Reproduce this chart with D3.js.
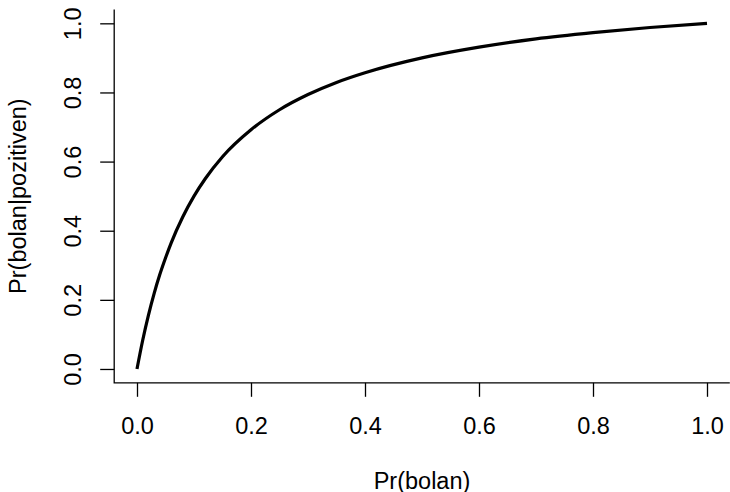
<!DOCTYPE html>
<html>
<head>
<meta charset="utf-8">
<script src="https://cdn.jsdelivr.net/npm/d3@7"></script>
<style>
  body { margin: 0; background: #fff; }
  svg { display: block; font-family: "Liberation Sans", Arial, sans-serif; }
</style>
</head>
<body>
<script>
// Prior probability (x) and posterior probability (y)
const prior = [0, 0.01, 0.02, 0.03, 0.04, 0.05, 0.06, 0.08, 0.10, 0.12, 0.15,
               0.20, 0.25, 0.30, 0.35, 0.40, 0.50, 0.60, 0.70, 0.80, 0.90, 1.0];
const posterior = [0, 0.083, 0.155, 0.218, 0.273, 0.321, 0.365, 0.439, 0.500, 0.551, 0.614,
                   0.692, 0.750, 0.794, 0.829, 0.857, 0.900, 0.931, 0.955, 0.973, 0.988, 1.0];
const xTicks = [0, 0.2, 0.4, 0.6, 0.8, 1.0];
const yTicks = [0, 0.2, 0.4, 0.6, 0.8, 1.0];

const width = 730, height = 492;
const fontSize = 23.5;
// R plot region: data range plus 4% padding on each side
const plotLeft = 114.2, plotRight = 729.8, plotTop = 9.5, plotBottom = 382.8;

const x = d3.scaleLinear().domain([-0.04, 1.04]).range([plotLeft, plotRight]);
const y = d3.scaleLinear().domain([-0.04, 1.04]).range([plotBottom, plotTop]);

const svg = d3.select("body").append("svg")
    .attr("width", width)
    .attr("height", height);

// L-shaped frame
svg.append("path")
    .attr("d", `M${plotLeft},${plotTop}V${plotBottom}H${plotRight}`)
    .attr("fill", "none")
    .attr("stroke", "#000")
    .attr("stroke-width", 1.3);

// x axis ticks + labels
const xAxis = svg.append("g")
    .attr("transform", `translate(0,${plotBottom})`)
    .call(d3.axisBottom(x).tickValues(xTicks).tickFormat(d3.format(".1f")).tickSize(14));
xAxis.select(".domain").remove();
xAxis.selectAll("line").attr("stroke", "#000").attr("stroke-width", 1.3);
xAxis.selectAll("text")
    .attr("font-size", fontSize).attr("font-family", null).attr("fill", "#000")
    .attr("y", 43).attr("dy", null)
    .attr("dominant-baseline", "central");

// y axis ticks + labels (rotated, like R's default las=0)
const yAxis = svg.append("g")
    .attr("transform", `translate(${plotLeft},0)`)
    .call(d3.axisLeft(y).tickValues(yTicks).tickFormat(d3.format(".1f")).tickSize(14));
yAxis.select(".domain").remove();
yAxis.selectAll("line").attr("stroke", "#000").attr("stroke-width", 1.3);
yAxis.selectAll("text")
    .attr("font-size", fontSize).attr("font-family", null).attr("fill", "#000")
    .attr("x", null).attr("dy", null)
    .attr("text-anchor", "middle")
    .attr("dominant-baseline", "central")
    .attr("transform", "translate(-41,0) rotate(-90)");

// curve
const line = d3.line()
    .x((d, i) => x(prior[i]))
    .y((d, i) => y(posterior[i]))
    .curve(d3.curveMonotoneX);

svg.append("path")
    .datum(prior)
    .attr("d", line)
    .attr("fill", "none")
    .attr("stroke", "#000")
    .attr("stroke-width", 3.2);

// axis titles
svg.append("text")
    .attr("x", (plotLeft + plotRight) / 2)
    .attr("y", 481)
    .attr("text-anchor", "middle")
    .attr("dominant-baseline", "central")
    .attr("font-size", fontSize)
    .text("Pr(bolan)");

svg.append("text")
    .attr("transform", `translate(18,${(plotTop + plotBottom) / 2}) rotate(-90)`)
    .attr("text-anchor", "middle")
    .attr("dominant-baseline", "central")
    .attr("font-size", fontSize)
    .text("Pr(bolan|pozitiven)");
</script>
</body>
</html>
